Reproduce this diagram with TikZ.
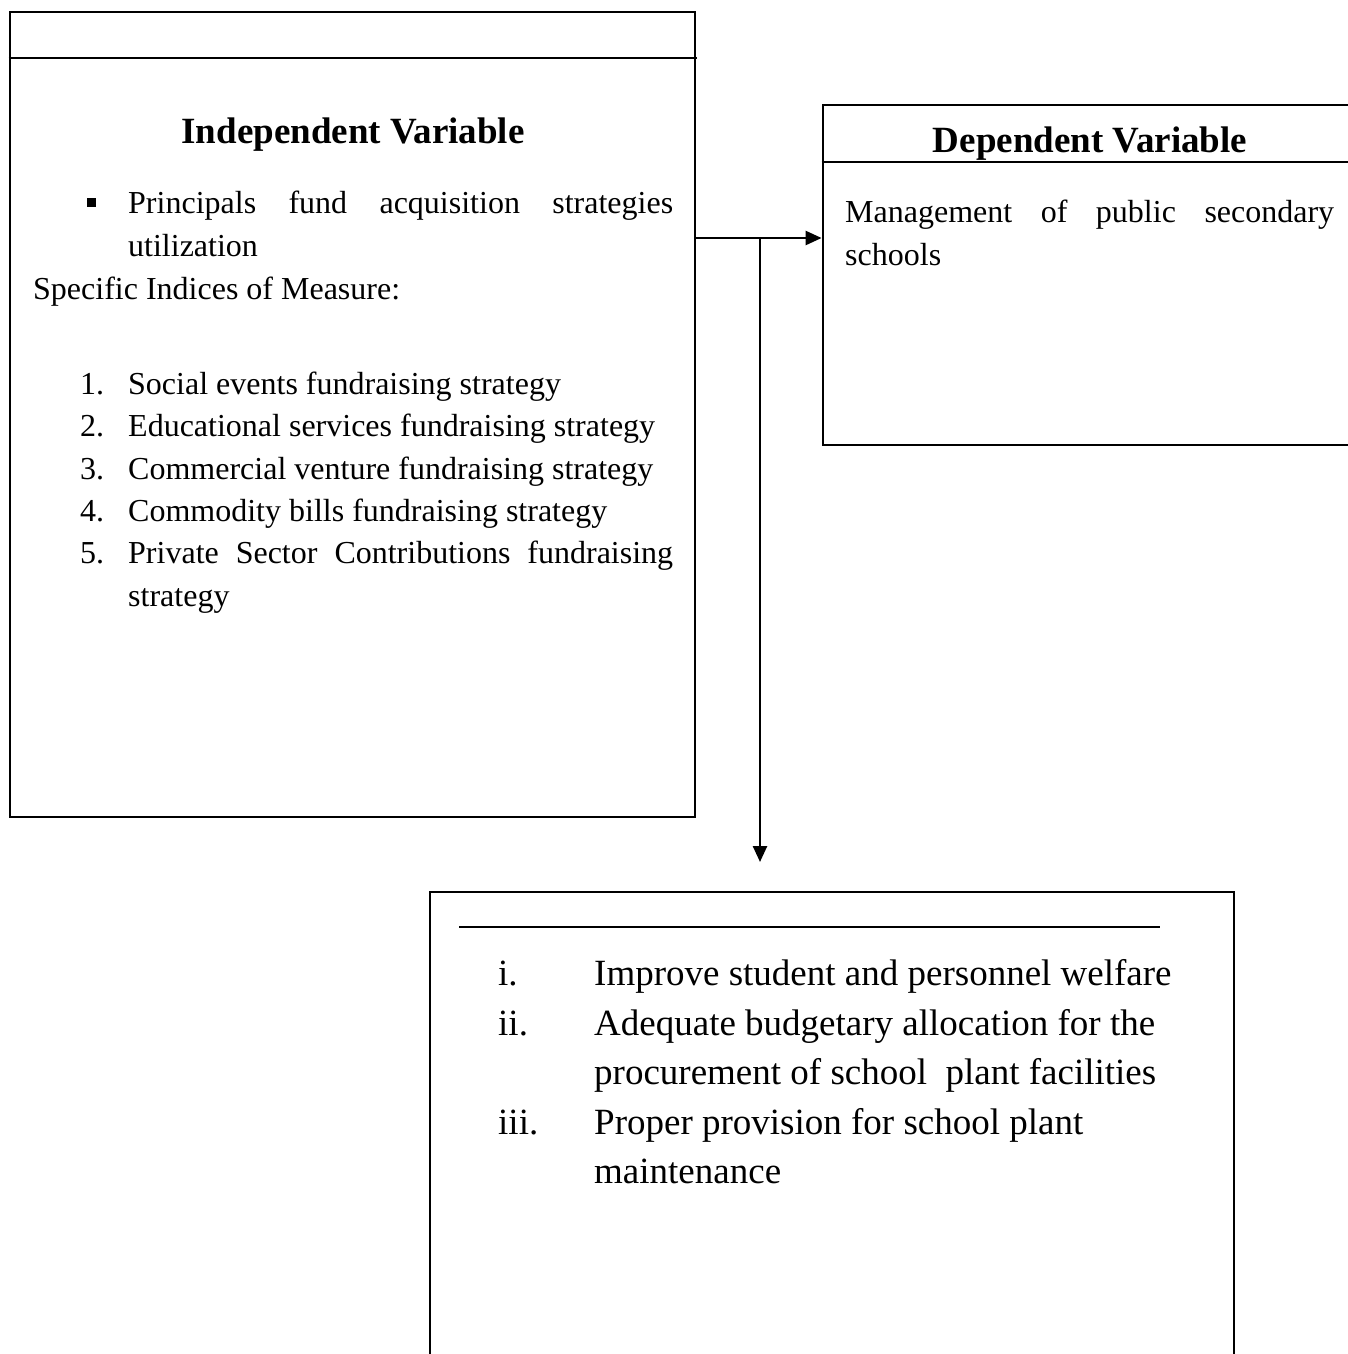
\documentclass[tikz,border=0pt]{standalone}
\usepackage{fontspec}
\setmainfont{Liberation Serif}
\usetikzlibrary{arrows.meta,calc}
\tikzset{
  boxline/.style={draw=black, line width=2.8pt},
  txt/.style={anchor=base west, inner sep=0pt, font=\fontsize{32}{38}\selectfont},
  head/.style={anchor=base, inner sep=0pt, font=\fontsize{37}{44}\selectfont\bfseries},
  btxt/.style={anchor=base west, inner sep=0pt, font=\fontsize{37}{44}\selectfont},
  conn/.style={line width=2.5pt, -{Triangle[length=16pt,width=14pt]}},
  frame/.style={boxline, rectangle, inner sep=0pt}
}
\begin{document}
\begin{tikzpicture}[x=1pt,y=-1pt]
\useasboundingbox (0,0) rectangle (1348,1354);
\clip (0,0) rectangle (1348,1354);
% boxes
\node[frame, minimum width=685pt, minimum height=805pt] (indep) at (352.5,414.5) {};
\node[frame, minimum width=600pt, minimum height=340pt] (dep) at (1123,275) {};
\node[frame, minimum width=804pt, minimum height=520pt] (outc) at (832,1152) {};
% header dividers
\draw[boxline] (indep.west |- 0,58) -- (697,58);
\draw[boxline] (dep.west |- 0,162) -- (dep.east |- 0,162);
\draw[boxline] (459,927) -- (1160,927);
% left box text
\node[head] (ih) at (353,143) {Independent Variable};
\node[fill=black, minimum size=9pt, inner sep=0pt] (bul) at (91,202) {};
\node[txt] (p1) at (128,213) {\makebox[545pt][s]{Principals fund acquisition strategies}};
\node[txt] (p2) at (128,256) {utilization};
\node[txt] (sim) at (33,299) {Specific Indices of Measure:};
\node[txt] (n1) at (80,394) {1.};
\node[txt] (l1) at (128,394) {Social events fundraising strategy};
\node[txt] (n2) at (80,436) {2.};
\node[txt] (l2) at (128,436) {Educational services fundraising strategy};
\node[txt] (n3) at (80,479) {3.};
\node[txt] (l3) at (128,479) {Commercial venture fundraising strategy};
\node[txt] (n4) at (80,521) {4.};
\node[txt] (l4) at (128,521) {Commodity bills fundraising strategy};
\node[txt] (n5) at (80,563) {5.};
\node[txt] (l5) at (128,563) {\makebox[545pt][s]{Private Sector Contributions fundraising}};
\node[txt] (l5b) at (128,606) {strategy};
% right box text
\node[head] (dh) at (1090,152) {Dependent Variable};
\node[txt] (m1) at (845,222) {\makebox[489pt][s]{Management of public secondary}};
\node[txt] (m2) at (845,265) {schools};
% bottom box text
\node[btxt] (r1) at (498,985) {i.};
\node[btxt] (o1) at (594,985) {Improve student and personnel welfare};
\node[btxt] (r2) at (498,1035) {ii.};
\node[btxt] (o2) at (594,1035) {Adequate budgetary allocation for the};
\node[btxt] (o2b) at (594,1084) {procurement of school\ \ plant facilities};
\node[btxt] (r3) at (498,1134) {iii.};
\node[btxt] (o3) at (594,1134) {Proper provision for school plant};
\node[btxt] (o3b) at (594,1183) {maintenance};
% connectors
\coordinate (j) at (760,238);
\coordinate (tip) at (760,862);
\draw[conn] (indep.east |- j) -- (dep.west |- j);
\draw[conn] (j) -- (tip);
\end{tikzpicture}
\end{document}
